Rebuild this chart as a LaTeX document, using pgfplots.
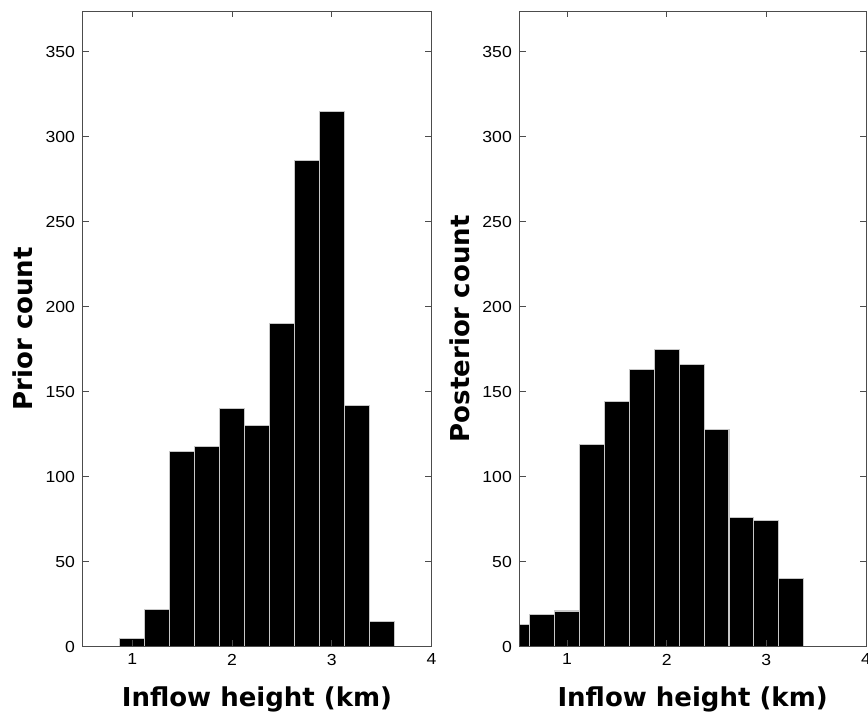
\documentclass[border=0pt]{standalone}
\usepackage{fontspec}
\setmainfont{Liberation Sans}
\newfontfamily\labfont{DejaVu Sans}
\usepackage{pgfplots}
\pgfplotsset{compat=1.18}
\begin{document}
\begin{tikzpicture}
\path[use as bounding box] (0pt,0pt) rectangle (868pt,713pt);
\pgfplotsset{
  hist/.style={
    scale only axis,
    anchor=south west,
    height=635.7pt,
    ymin=0, ymax=374, xmax=4,
    xtick={1,2,3,4}, ytick={0,50,...,350},
    tick align=inside,
    major tick length=6.5pt,
    axis line style={black!70, line width=0.9pt},
    every tick/.style={black!70, line width=0.9pt},
    /pgf/number format/assume math mode=true,
    tick label style={font=\fontsize{16}{19}\selectfont, inner sep=0pt, xscale=1.1},
    xticklabel style={anchor=north, yshift=-7pt},
    yticklabel style={anchor=east, xshift=-6.6pt},
    xlabel style={font=\labfont\bfseries\fontsize{26}{30}\selectfont, at={(axis description cs:0.5,0)}, anchor=base, yshift=-60pt},
    ylabel style={font=\labfont\bfseries\fontsize{26}{30}\selectfont, at={(axis description cs:0,0.5)}, anchor=base, yshift=50pt},
    xlabel={Inflow height (km)},
    axis on top,
  },
  histbar/.style={ybar, bar width=0.25, fill=black, draw=black!22, line width=1.1pt},
}
\begin{axis}[hist, at={(82.5pt,66.3pt)}, width=349pt, xmin=0.5, ylabel={Prior count}]
\addplot[histbar] coordinates {
(1.00,5) (1.25,22) (1.50,115) (1.75,118) (2.00,140) (2.25,130)
(2.50,190) (2.75,286) (3.00,315) (3.25,142) (3.50,15)};
\end{axis}
\begin{axis}[hist, at={(519.3pt,66.3pt)}, width=346.7pt, xmin=0.52, ylabel={Posterior count}]
\addplot[histbar] coordinates {
(0.50,13) (0.75,19) (1.00,21) (1.25,119) (1.50,144) (1.75,163)
(2.00,175) (2.25,166) (2.50,128) (2.75,76) (3.00,74) (3.25,40)};
\end{axis}
\end{tikzpicture}
\end{document}
